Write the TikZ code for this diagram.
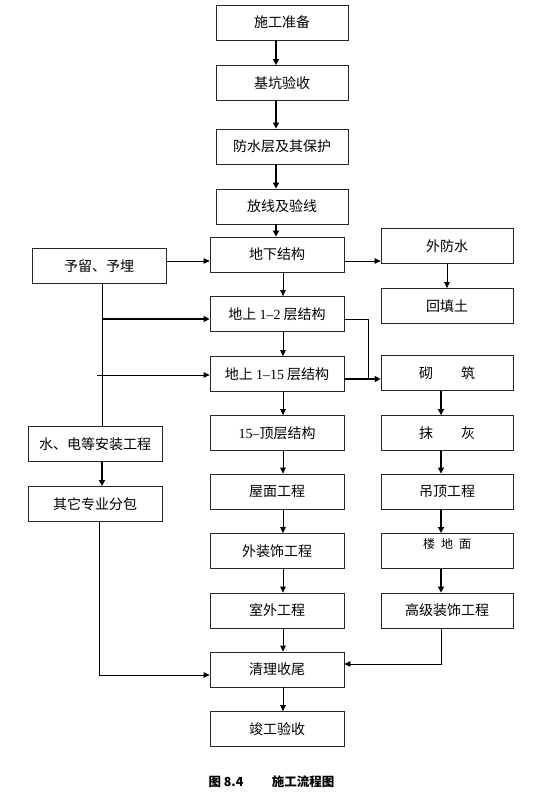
\documentclass[tikz,border=0pt]{standalone}
\usepackage{fontspec}
\setmainfont{Liberation Serif}
\newfontfamily\cjk{Noto Sans CJK SC}
\usetikzlibrary{arrows.meta}
\tikzset{
  box/.style={draw=black!85, line width=0.8pt, minimum width=132pt, minimum height=35pt, inner sep=0pt, font=\fontsize{14}{16}\selectfont\cjk},
  wbox/.style={box, minimum width=134pt},
  captext/.style={font=\fontsize{12.5}{14}\selectfont\cjk\bfseries},
  thin arr/.style={line width=0.8pt, -{Triangle[length=6pt,width=5.5pt]}},
  thick arr/.style={line width=1.6pt, -{Triangle[length=6pt,width=6pt]}},
  thin line/.style={line width=0.8pt},
}
\begin{document}
\begin{tikzpicture}[x=1pt,y=-1pt]
\useasboundingbox (0,0) rectangle (554,805);
\fill[white] (0,0) rectangle (554,805);
% middle column, top
\node[box] (A) at (282,22.5) {施工准备};
\node[box] (B) at (282,83) {基坑验收};
\node[box] (C) at (282,146.5) {防水层及其保护};
\node[box] (D) at (282,206.5) {放线及验线};
% middle column, lower
\node[wbox] (E) at (277,254.5) {地下结构};
\node[wbox] (F) at (277,314) {地上 {\rmfamily 1–2} 层结构};
\node[wbox] (G) at (277,374) {地上 {\rmfamily 1–15} 层结构};
\node[wbox] (H) at (277,433) {{\rmfamily 15–}顶层结构};
\node[wbox] (I) at (277,491.5) {屋面工程};
\node[wbox] (J) at (277,551) {外装饰工程};
\node[wbox] (K) at (277,610.5) {室外工程};
\node[wbox] (L) at (277,669.5) {清理收尾};
\node[wbox] (M) at (277,729) {竣工验收};
% right column
\node[box] (R1) at (447,246) {外防水};
\node[box] (R2) at (447,306) {回填土};
\node[box] (R3) at (447,373) {砌\hspace{2em}筑};
\node[box] (R4) at (447,433) {抹\hspace{2em}灰};
\node[box] (R5) at (447,491.5) {吊顶工程};
\node[box, anchor=north] (R6) at (447,533) {};
\node[font=\fontsize{12}{14}\selectfont\cjk, anchor=center] (R6t) at (447,544) {楼\hspace{0.5em}地\hspace{0.5em}面};
\node[box] (R7) at (447,610.5) {高级装饰工程};
% left column
\node[wbox] (P) at (99,266) {予留、予埋};
\node[wbox] (Q) at (95,444) {水、电等安装工程};
\node[wbox] (S) at (95,504) {其它专业分包};
% caption
\node[captext] (cap1) at (226,782) {图 8.4};
\node[captext] (cap2) at (303,782) {施工流程图};
% top arrows
\draw[thick arr] ([xshift=-6pt]A.south) -- ([xshift=-6pt]B.north);
\draw[thick arr] ([xshift=-6pt]B.south) -- ([xshift=-6pt]C.north);
\draw[thick arr] ([xshift=-6pt]C.south) -- ([xshift=-6pt]D.north);
\draw[thick arr] ([xshift=-6pt]D.south) -- ([xshift=-1pt]E.north);
% middle arrows
\foreach \u/\v in {E/F,F/G,G/H,H/I,I/J,J/K,K/L,L/M}
  \draw[thin arr] ([xshift=6pt]\u.south) -- ([xshift=6pt]\v.north);
% right arrows
\draw[thin arr] (R1.south) -- (R2.north);
\foreach \u/\v in {R3/R4,R4/R5,R5/R6,R6/R7}
  \draw[thick arr] ([xshift=-6pt]\u.south) -- ([xshift=-6pt]\v.north);
% horizontal links
\draw[thin arr] ([yshift=-6.5pt]E.east) -- ([yshift=-6.5pt]E.east -| R1.west);
\draw[thin arr] ([yshift=5pt]P.east) -- ([yshift=5pt]P.east -| E.west);
\draw[thin line] ([xshift=3pt]P.south) -- ([xshift=7pt]Q.north);
\coordinate (b1) at (102,319);
\coordinate (b2) at (97,375);
\draw[thick arr] (b1) -- (b1 -| F.west);
\draw[thin arr] (b2) -- (b2 -| G.west);
\draw[thick arr] ([xshift=7pt]Q.south) -- ([xshift=7pt]S.north);
\draw[thin arr] ([xshift=4pt]S.south) |- ([yshift=-5.5pt]L.west);
\coordinate (j) at (368,379);
\draw[thin line] ([yshift=-5pt]F.east) -| (j);
\draw[thick arr] ([yshift=-5pt]G.east) -- ([yshift=-5pt]G.east -| R3.west);
\draw[thin arr] ([xshift=-6pt]R7.south) |- ([yshift=5.5pt]L.east);
\end{tikzpicture}
\end{document}
